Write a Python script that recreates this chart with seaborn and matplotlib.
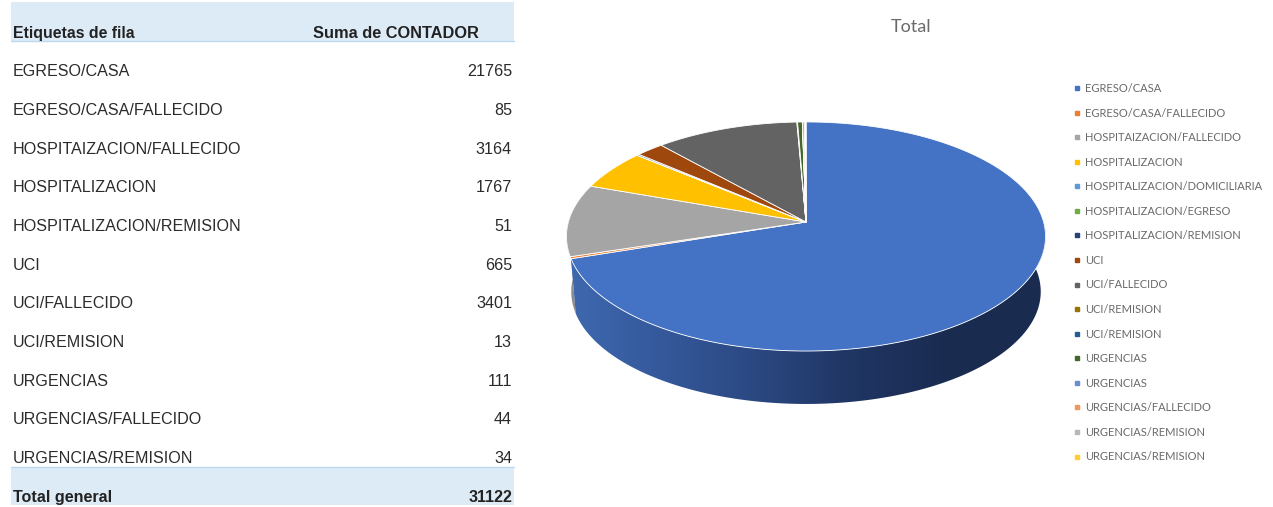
import numpy as np
import matplotlib
matplotlib.use('Agg')
import matplotlib.pyplot as plt
from matplotlib.lines import Line2D
from matplotlib.patches import Polygon
from matplotlib.colors import LinearSegmentedColormap
import seaborn as sns

# Table rows
row_labels = ['EGRESO/CASA', 'EGRESO/CASA/FALLECIDO', 'HOSPITAIZACION/FALLECIDO',
              'HOSPITALIZACION', 'HOSPITALIZACION/REMISION', 'UCI', 'UCI/FALLECIDO',
              'UCI/REMISION', 'URGENCIAS', 'URGENCIAS/FALLECIDO', 'URGENCIAS/REMISION']
row_values = [21765, 85, 3164, 1767, 51, 665, 3401, 13, 111, 44, 34]
total_label = 'Total general'
total_value = 31122

# Pie slices (the legend has more entries than the table, small ones are estimated)
pie_labels = ['EGRESO/CASA', 'EGRESO/CASA/FALLECIDO', 'HOSPITAIZACION/FALLECIDO',
              'HOSPITALIZACION', 'HOSPITALIZACION/DOMICILIARIA', 'HOSPITALIZACION/EGRESO',
              'HOSPITALIZACION/REMISION', 'UCI', 'UCI/FALLECIDO', 'UCI/REMISION',
              'UCI/REMISION', 'URGENCIAS', 'URGENCIAS', 'URGENCIAS/FALLECIDO',
              'URGENCIAS/REMISION', 'URGENCIAS/REMISION']
pie_values = [21765, 85, 3164, 1767, 5, 4, 51, 665, 3401, 13, 4, 111, 3, 44, 34, 6]
pie_colors = ['#4472C4', '#ED7D31', '#A5A5A5', '#FFC000', '#5B9BD5', '#70AD47',
              '#264478', '#9E480E', '#636363', '#997300', '#255E91', '#43682B',
              '#698ED0', '#F1975A', '#B7B7B7', '#FFCD33']

sns.set_theme(style='white')
palette = sns.color_palette(pie_colors)

fig = plt.figure(figsize=(12.73, 5.07), dpi=100)
ax = fig.add_axes([0, 0, 1, 1])
ax.set_xlim(0, 1273)
ax.set_ylim(507, 0)
ax.axis('off')

# ---- table ----
band = '#DDEBF7'
band_line = '#BDD7EE'
table_font = 'Liberation Sans'
ax.fill_between([11, 514], 2, 41, color=band, lw=0)
ax.fill_between([11, 514], 467, 505, color=band, lw=0)
ax.plot([11, 514], [41, 41], color=band_line, lw=1)
ax.plot([11, 514], [467, 467], color=band_line, lw=1)

ax.text(13, 33.5, 'Etiquetas de fila', fontsize=11.4, fontweight='bold', color='#222222',
        family=table_font, va='center')
ax.text(479, 33.5, 'Suma de CONTADOR', fontsize=11.75, fontweight='bold', color='#222222',
        family=table_font, va='center', ha='right')
for i, (lab, val) in enumerate(zip(row_labels, row_values)):
    y = 72 + i * 38.65
    ax.text(13, y, lab, fontsize=11.6, color='#2b2b2b', family=table_font, va='center')
    ax.text(512, y, str(val), fontsize=11.6, color='#2b2b2b', family=table_font,
            va='center', ha='right')
ax.text(13, 497.5, total_label, fontsize=11.6, fontweight='bold', color='#222222',
        family=table_font, va='center')
ax.text(512, 497.5, str(total_value), fontsize=11.6, fontweight='bold', color='#222222',
        family=table_font, va='center', ha='right')

# ---- pie with perspective ----
cx, cy = 806, 222
rx, ry = 237.6, 112.7
k = 0.1266


def project(frac, scale=1.0, dy=0.0):
    theta = 2 * np.pi * np.asarray(frac)
    den = 1 + k * np.cos(theta)
    return (cx + scale * rx * np.sin(theta) / den,
            cy - scale * ry * np.cos(theta) / den + dy)


def arc(a, b):
    return np.linspace(a, b, max(2, int((b - a) * 720)))


edges = np.concatenate([[0], np.cumsum(pie_values)]) / np.sum(pie_values)
wall_scale, wall_dy = 0.98, 55.5


def wall_polygon(a, b):
    t = arc(a, b)
    x1, y1 = project(t)
    x2, y2 = project(t[::-1], wall_scale, wall_dy)
    return np.column_stack([np.concatenate([x1, x2]), np.concatenate([y1, y2])])


# thin gray wall on the left, next to the blue one
ax.add_patch(Polygon(wall_polygon(edges[1], edges[3]), closed=True, color='#8C8C8C', lw=0, zorder=1))

# blue wall with gradient
wall = Polygon(wall_polygon(edges[0], edges[1]), closed=True, transform=ax.transData,
               facecolor='none', edgecolor='none')
ax.add_patch(wall)
wall_cmap = LinearSegmentedColormap.from_list(
    'wall', ['#3E68AF', '#34589A', '#2A4780', '#1F3562', '#1A2B50', '#1A2B50'])
img = ax.imshow(np.linspace(0, 1, 256).reshape(1, -1), cmap=wall_cmap, aspect='auto',
                extent=[570, 1046, 410, 220], zorder=2)
img.set_clip_path(wall)
ax.set_xlim(0, 1273)
ax.set_ylim(507, 0)

# top faces
for i, col in enumerate(palette):
    x, y = project(arc(edges[i], edges[i + 1]))
    ax.fill(np.r_[cx, x], np.r_[cy, y], facecolor=col, edgecolor='white', lw=0.6,
            joinstyle='round', zorder=3)

ax.text(911, 26.5, 'Total', fontsize=13, color='#6a6a6a', family='Lato', ha='center', va='center')

# ---- legend ----
handles = [Line2D([], [], linestyle='none', marker='s', markersize=3.4, color=c, label=l)
           for c, l in zip(palette, pie_labels)]
leg = ax.legend(handles=handles, loc='upper left', bbox_to_anchor=(1074, 83),
                bbox_transform=ax.transData, frameon=False, prop={'family': 'Lato', 'size': 8.05},
                labelcolor='#6a6a6a', labelspacing=1.213, handlelength=0.6, handletextpad=0.4,
                borderpad=0, borderaxespad=0)

fig.savefig('out.png', dpi=100, facecolor='white')
